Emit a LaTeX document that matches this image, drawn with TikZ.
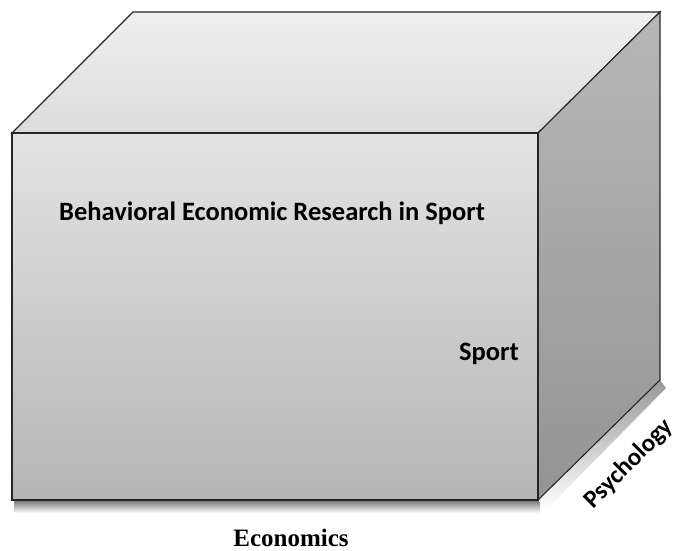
\documentclass[tikz,border=0pt]{standalone}
\usepackage{fontspec}
\setmainfont{Liberation Serif}
\newfontfamily\calfont{Carlito}
\begin{document}
\begin{tikzpicture}[x=1pt,y=-1pt,
  edge/.style={draw=black!85,line width=1.1pt,line join=miter},
  lbl/.style={font=\calfont\bfseries\fontsize{26.5}{30}\selectfont,inner sep=0pt}]
\useasboundingbox (0,0) rectangle (681,551);
% soft shadow
\shade[top color=black!55,bottom color=white] (14,500) rectangle (540,513);
\shade[left color=black!40,right color=white,shading angle=0]
  (538,500) -- (660,380) -- (666,388) -- (546,510) -- cycle;
% faces
\shade[edge,top color=black!6,bottom color=black!14]
  (12,133) -- (133,12) -- (660,12) -- (538,133) -- cycle;
\shade[edge,top color=black!28,bottom color=black!42]
  (538,133) -- (660,12) -- (660,380) -- (538,500) -- cycle;
\shade[edge,top color=black!11,bottom color=black!29]
  (12,133) rectangle (538,500);
% labels
\node[lbl,anchor=west] (ber) at (59,213) {Behavioral Economic Research in Sport};
\node[lbl,anchor=east] (sport) at (519,354) {Sport};
\node[lbl,font=\calfont\bfseries\fontsize{25}{30}\selectfont,rotate=45] (psy) at (629,464) {Psychology};
\node[font=\bfseries\fontsize{25}{30}\selectfont,inner sep=0pt] (eco) at (291,538) {Economics};
\end{tikzpicture}
\end{document}
